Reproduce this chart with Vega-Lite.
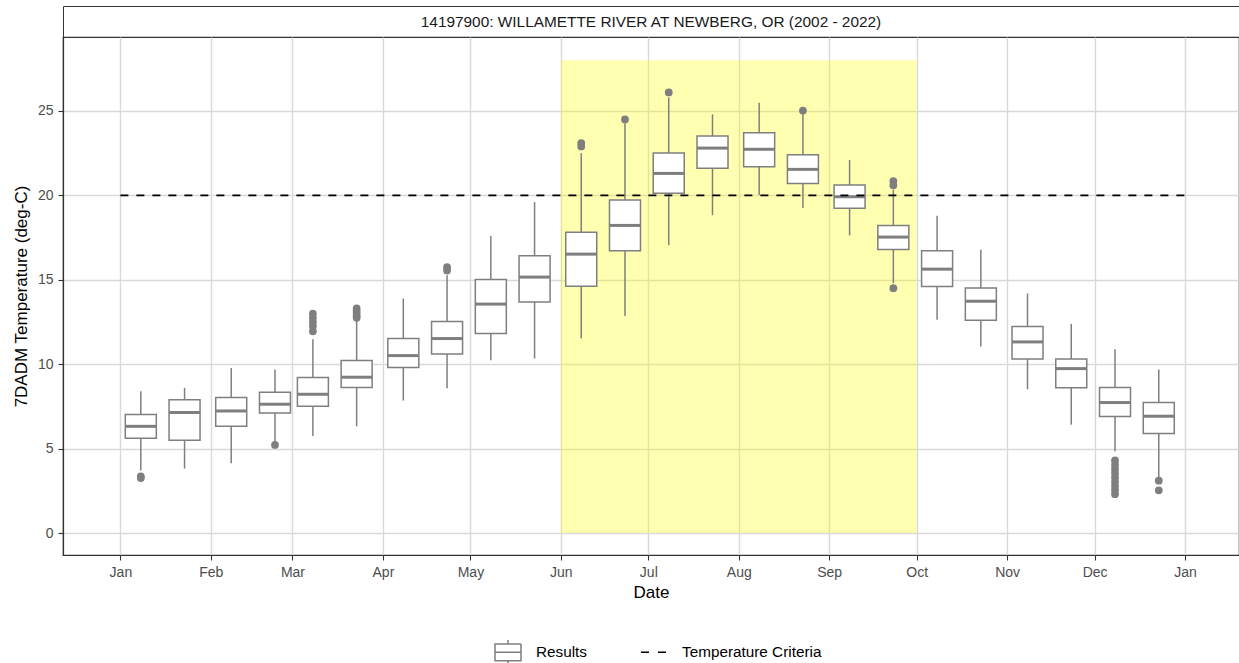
{
  "$schema": "https://vega.github.io/schema/vega-lite/v6.json",
  "padding": {"left": 11, "top": 5, "right": 0, "bottom": 0},
  "background": "white",
  "bounds": "flush",
  "spacing": 0,
  "config": {
    "font": "Liberation Sans",
    "axis": {
      "labelFont": "Liberation Sans", "labelFontSize": 14, "labelColor": "#4d4d4d",
      "titleFont": "Liberation Sans", "titleFontSize": 17, "titleFontWeight": "normal", "titleColor": "#000000",
      "tickColor": "#333333", "tickSize": 5, "tickWidth": 1.1,
      "domainColor": "#333333", "domainWidth": 1.2,
      "gridColor": "#d9d9d9", "gridWidth": 1.4,
      "labelPadding": 5, "titlePadding": 5
    },
    "axisY": {"titlePadding": 7},
    "legend": {"labelFont": "Liberation Sans", "labelFontSize": 15.3, "labelColor": "#000000"}
  },
  "datasets": {
    "boxes": [
      {"date": "2022-01-08", "lo": 3.7, "q1": 5.61, "med": 6.32, "q3": 7.02, "hi": 8.40},
      {"date": "2022-01-23", "lo": 3.82, "q1": 5.50, "med": 7.14, "q3": 7.89, "hi": 8.60},
      {"date": "2022-02-08", "lo": 4.13, "q1": 6.32, "med": 7.23, "q3": 8.03, "hi": 9.78},
      {"date": "2022-02-23", "lo": 5.39, "q1": 7.11, "med": 7.63, "q3": 8.34, "hi": 9.68},
      {"date": "2022-03-08", "lo": 5.75, "q1": 7.51, "med": 8.22, "q3": 9.21, "hi": 11.48},
      {"date": "2022-03-23", "lo": 6.32, "q1": 8.62, "med": 9.23, "q3": 10.22, "hi": 12.6},
      {"date": "2022-04-08", "lo": 7.85, "q1": 9.80, "med": 10.51, "q3": 11.52, "hi": 13.89},
      {"date": "2022-04-23", "lo": 8.58, "q1": 10.61, "med": 11.52, "q3": 12.53, "hi": 15.27},
      {"date": "2022-05-08", "lo": 10.24, "q1": 11.82, "med": 13.56, "q3": 15.02, "hi": 17.59},
      {"date": "2022-05-23", "lo": 10.34, "q1": 13.69, "med": 15.16, "q3": 16.42, "hi": 19.60},
      {"date": "2022-06-08", "lo": 11.52, "q1": 14.62, "med": 16.52, "q3": 17.82, "hi": 22.49},
      {"date": "2022-06-23", "lo": 12.85, "q1": 16.72, "med": 18.22, "q3": 19.72, "hi": 24.27},
      {"date": "2022-07-08", "lo": 17.05, "q1": 20.12, "med": 21.30, "q3": 22.51, "hi": 25.8},
      {"date": "2022-07-23", "lo": 18.83, "q1": 21.60, "med": 22.80, "q3": 23.52, "hi": 24.80},
      {"date": "2022-08-08", "lo": 20.02, "q1": 21.70, "med": 22.73, "q3": 23.71, "hi": 25.49},
      {"date": "2022-08-23", "lo": 19.25, "q1": 20.71, "med": 21.54, "q3": 22.41, "hi": 24.85},
      {"date": "2022-09-08", "lo": 17.63, "q1": 19.23, "med": 19.92, "q3": 20.61, "hi": 22.09},
      {"date": "2022-09-23", "lo": 14.8, "q1": 16.80, "med": 17.53, "q3": 18.22, "hi": 20.35},
      {"date": "2022-10-08", "lo": 12.63, "q1": 14.60, "med": 15.63, "q3": 16.72, "hi": 18.79},
      {"date": "2022-10-23", "lo": 11.05, "q1": 12.61, "med": 13.73, "q3": 14.52, "hi": 16.78},
      {"date": "2022-11-08", "lo": 8.52, "q1": 10.31, "med": 11.32, "q3": 12.23, "hi": 14.19},
      {"date": "2022-11-23", "lo": 6.42, "q1": 8.60, "med": 9.74, "q3": 10.31, "hi": 12.39},
      {"date": "2022-12-08", "lo": 4.84, "q1": 6.90, "med": 7.73, "q3": 8.62, "hi": 10.89},
      {"date": "2022-12-23", "lo": 3.3, "q1": 5.89, "med": 6.92, "q3": 7.73, "hi": 9.68}
    ],
    "outliers": [
      {"date": "2022-01-08", "value": 3.36}, {"date": "2022-01-08", "value": 3.26},
      {"date": "2022-02-23", "value": 5.22},
      {"date": "2022-03-08", "value": 13.0}, {"date": "2022-03-08", "value": 12.75}, {"date": "2022-03-08", "value": 12.5}, {"date": "2022-03-08", "value": 12.25}, {"date": "2022-03-08", "value": 11.95},
      {"date": "2022-03-23", "value": 13.3}, {"date": "2022-03-23", "value": 13.15}, {"date": "2022-03-23", "value": 13.0}, {"date": "2022-03-23", "value": 12.85}, {"date": "2022-03-23", "value": 12.75},
      {"date": "2022-04-23", "value": 15.75}, {"date": "2022-04-23", "value": 15.55},
      {"date": "2022-06-08", "value": 23.1}, {"date": "2022-06-08", "value": 22.9},
      {"date": "2022-06-23", "value": 24.5},
      {"date": "2022-07-08", "value": 26.1},
      {"date": "2022-08-23", "value": 25.02},
      {"date": "2022-09-23", "value": 20.85}, {"date": "2022-09-23", "value": 20.6}, {"date": "2022-09-23", "value": 14.5},
      {"date": "2022-12-08", "value": 4.3}, {"date": "2022-12-08", "value": 4.05}, {"date": "2022-12-08", "value": 3.8}, {"date": "2022-12-08", "value": 3.55}, {"date": "2022-12-08", "value": 3.3}, {"date": "2022-12-08", "value": 3.05}, {"date": "2022-12-08", "value": 2.8}, {"date": "2022-12-08", "value": 2.55}, {"date": "2022-12-08", "value": 2.3},
      {"date": "2022-12-23", "value": 3.1}, {"date": "2022-12-23", "value": 2.53}
    ],
    "season": [{"start": "2022-06-01", "end": "2022-10-01", "lo": 0, "hi": 28}],
    "criteria": [{"start": "2022-01-01", "end": "2023-01-01", "value": 20}]
  },
  "vconcat": [
    {
      "width": 1176,
      "height": 31,
      "data": {"values": [{"label": "14197900: WILLAMETTE RIVER AT NEWBERG, OR (2002 - 2022)"}]},
      "view": {"stroke": "#333333", "strokeWidth": 1, "fill": "white"},
      "mark": {"type": "text", "fontSize": 15.4, "color": "#1a1a1a", "baseline": "middle", "align": "center", "font": "Liberation Sans"},
      "encoding": {"text": {"field": "label", "type": "nominal"}}
    },
    {
      "width": 1176,
      "height": 518,
      "view": {"stroke": "#333333", "strokeWidth": 1.2},
      "layer": [
        {
          "data": {"name": "season"},
          "mark": {"type": "rect", "color": "#ffff00", "opacity": 0.3},
          "encoding": {
            "x": {
              "field": "start", "type": "temporal", "title": "Date",
              "scale": {"type": "utc", "nice": false, "domain": [{"year": 2021, "month": 12, "date": 14, "hours": 1, "utc": true}, {"year": 2023, "month": 1, "date": 17, "hours": 19, "utc": true}]},
              "axis": {
                "labelExpr": "utcFormat(datum.value, '%b')", "grid": true,
                "values": [
                  {"year": 2022, "month": 1, "date": 1, "utc": true},
                  {"year": 2022, "month": 2, "date": 1, "utc": true},
                  {"year": 2022, "month": 3, "date": 1, "utc": true},
                  {"year": 2022, "month": 4, "date": 1, "utc": true},
                  {"year": 2022, "month": 5, "date": 1, "utc": true},
                  {"year": 2022, "month": 6, "date": 1, "utc": true},
                  {"year": 2022, "month": 7, "date": 1, "utc": true},
                  {"year": 2022, "month": 8, "date": 1, "utc": true},
                  {"year": 2022, "month": 9, "date": 1, "utc": true},
                  {"year": 2022, "month": 10, "date": 1, "utc": true},
                  {"year": 2022, "month": 11, "date": 1, "utc": true},
                  {"year": 2022, "month": 12, "date": 1, "utc": true},
                  {"year": 2023, "month": 1, "date": 1, "utc": true}
                ]
              }
            },
            "x2": {"field": "end"},
            "y": {
              "field": "lo", "type": "quantitative", "title": "7DADM Temperature (deg-C)",
              "scale": {"domain": [-1.3, 29.38], "nice": false, "zero": false},
              "axis": {"values": [0, 5, 10, 15, 20, 25], "grid": true}
            },
            "y2": {"field": "hi"}
          }
        },
        {
          "data": {"name": "boxes"},
          "mark": {"type": "rule", "color": "#7f7f7f", "strokeWidth": 1.5},
          "encoding": {
            "x": {"field": "date", "type": "temporal", "title": "Date"},
            "y": {"field": "lo", "type": "quantitative", "title": "7DADM Temperature (deg-C)"},
            "y2": {"field": "hi"}
          }
        },
        {
          "data": {"name": "boxes"},
          "mark": {"type": "bar", "width": 31, "fill": "white", "strokeWidth": 1.5, "opacity": 1},
          "encoding": {
            "x": {"field": "date", "type": "temporal", "title": "Date"},
            "y": {"field": "q1", "type": "quantitative", "title": "7DADM Temperature (deg-C)"},
            "y2": {"field": "q3"},
            "stroke": {"datum": "Results", "type": "nominal"}
          }
        },
        {
          "data": {"name": "boxes"},
          "mark": {"type": "tick", "orient": "horizontal", "size": 31, "thickness": 3, "color": "#7f7f7f", "opacity": 1},
          "encoding": {
            "x": {"field": "date", "type": "temporal", "title": "Date"},
            "y": {"field": "med", "type": "quantitative", "title": "7DADM Temperature (deg-C)"}
          }
        },
        {
          "data": {"name": "outliers"},
          "mark": {"type": "point", "filled": true, "size": 60, "color": "#7f7f7f", "opacity": 1},
          "encoding": {
            "x": {"field": "date", "type": "temporal", "title": "Date"},
            "y": {"field": "value", "type": "quantitative", "title": "7DADM Temperature (deg-C)"}
          }
        },
        {
          "data": {"name": "criteria"},
          "mark": {"type": "rule", "strokeDash": [8, 8], "strokeWidth": 1.7},
          "encoding": {
            "x": {"field": "start", "type": "temporal", "title": "Date"},
            "x2": {"field": "end"},
            "y": {"field": "value", "type": "quantitative", "title": "7DADM Temperature (deg-C)"},
            "stroke": {
              "datum": "Temperature Criteria", "type": "nominal",
              "scale": {"domain": ["Results", "Temperature Criteria"], "range": ["#7f7f7f", "#000000"]},
              "legend": {
                "orient": "none", "legendX": 431, "legendY": 632, "direction": "horizontal", "title": null,
                "symbolSize": 676, "symbolStrokeWidth": 1.5, "labelOffset": 14, "columnPadding": 50,
                "encode": {
                  "symbols": {
                    "update": {
                      "shape": {"signal": "datum.value === 'Results' ? 'M-1,-0.64H1V0.64H-1Z M-1,0H1 M0,-0.64V-0.95 M0,0.64V0.95' : 'M-1,-0.95 M-1,0H1 M1,0.95'"},
                      "strokeDash": {"signal": "datum.value === 'Results' ? [1,0] : [8,9]"},
                      "fill": {"value": "transparent"}
                    }
                  }
                }
              }
            }
          }
        }
      ]
    }
  ]
}
